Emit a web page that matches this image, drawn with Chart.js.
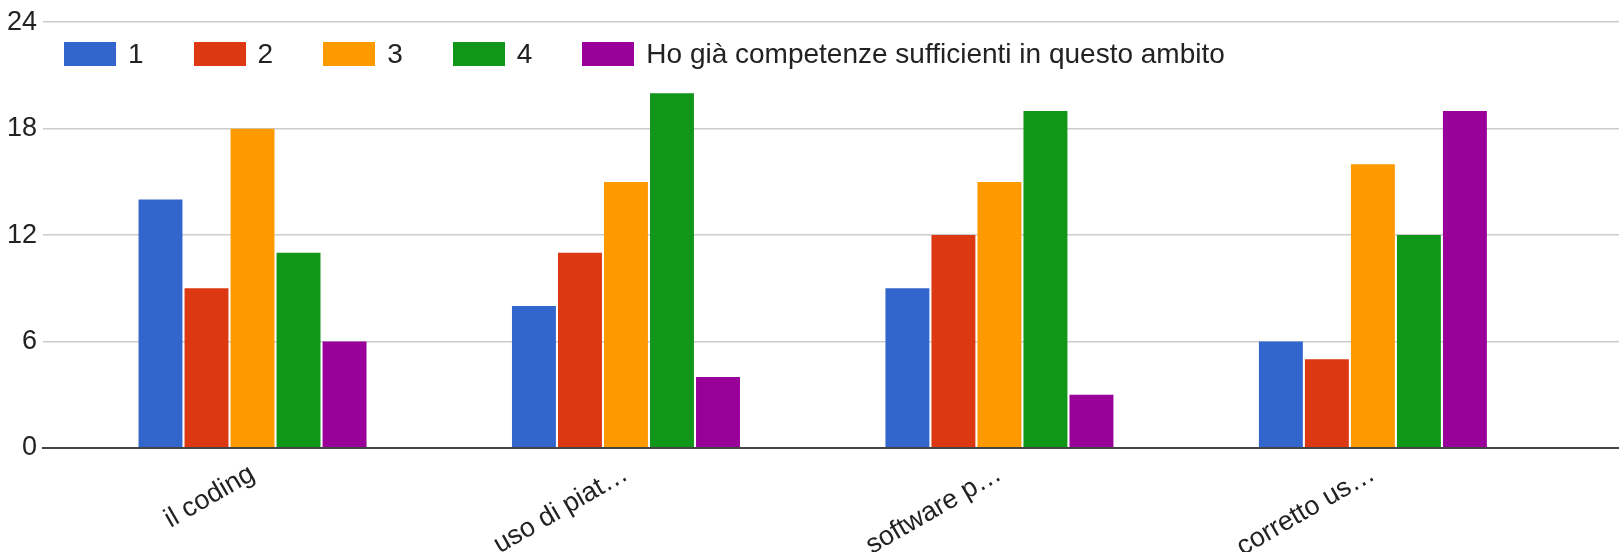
<!DOCTYPE html>
<html>
<head>
<meta charset="utf-8">
<script src="https://cdn.jsdelivr.net/npm/chart.js@4/dist/chart.umd.min.js"></script>
<style>
  body { margin: 0; background: #fff; }
  .wrap { position: relative; width: 1619px; height: 552px; }
  .legend {
    position: absolute; left: 64px; top: 38px; display: flex; align-items: center;
    font-family: "Liberation Sans", Arial, sans-serif; font-size: 28px; color: #222;
  }
  .legend .item { display: flex; align-items: center; margin-right: 50px; }
  .legend .box { width: 52px; height: 24px; margin-right: 12px; }
</style>
</head>
<body>
<div class="wrap">
  <canvas id="chart" width="1619" height="552"></canvas>
  <div class="legend" id="legend"></div>
</div>
<script>
const categories = ["il coding", "uso di piat…", "software p…", "corretto us…"];
const seriesNames = ["1", "2", "3", "4", "Ho già competenze sufficienti in questo ambito"];
const seriesColors = ["#3366cc", "#dc3912", "#ff9900", "#109618", "#990099"];
const series1 = [14, 8, 9, 6];
const series2 = [9, 11, 12, 5];
const series3 = [18, 15, 15, 16];
const series4 = [11, 20, 19, 12];
const series5 = [6, 4, 3, 19];
const yTicks = [0, 6, 12, 18, 24];

const allSeries = [series1, series2, series3, series4, series5];
const font = { family: "'Liberation Sans', Arial, sans-serif", size: 27 };

const datasets = allSeries.map((values, i) => ({
  label: seriesNames[i],
  data: values.map((v, j) => ({ x: j, y: v })),
  backgroundColor: seriesColors[i],
  borderWidth: 0,
  categoryPercentage: 0.616,
  barPercentage: 0.955,
}));

// html legend, placed inside the plot like the original
const legendEl = document.getElementById("legend");
seriesNames.forEach((name, i) => {
  const item = document.createElement("div");
  item.className = "item";
  item.innerHTML = `<span class="box" style="background:${seriesColors[i]}"></span><span>${name}</span>`;
  legendEl.appendChild(item);
});

new Chart(document.getElementById("chart"), {
  type: "bar",
  data: { datasets },
  options: {
    responsive: false,
    animation: false,
    layout: { padding: { top: 8, right: 0, left: 0, bottom: 0 } },
    plugins: { legend: { display: false }, tooltip: { enabled: false } },
    scales: {
      x: {
        type: "linear",
        offset: false,
        min: -0.561,
        max: 3.659,
        grid: { display: false, drawTicks: false },
        border: { display: true, color: "#444", width: 2 },
        afterBuildTicks: (scale) => {
          scale.ticks = categories.map((_, i) => ({ value: i }));
        },
        afterFit: (scale) => { scale.height = 104; },
        ticks: {
          minRotation: 30,
          maxRotation: 30,
          padding: 10,
          color: "#222",
          font,
          callback: (value) => categories[value],
        },
      },
      y: {
        min: 0,
        max: 24,
        afterBuildTicks: (scale) => {
          scale.ticks = yTicks.map((v) => ({ value: v }));
        },
        afterFit: (scale) => { scale.width = 43; },
        grid: {
          drawTicks: false,
          color: (ctx) => (ctx.tick && ctx.tick.value === 0 ? "#444" : "#cccccc"),
          lineWidth: (ctx) => (ctx.tick && ctx.tick.value === 0 ? 2 : 1.5),
        },
        border: { display: false },
        ticks: { padding: 6, color: "#222", font },
      },
    },
  },
});
</script>
</body>
</html>
